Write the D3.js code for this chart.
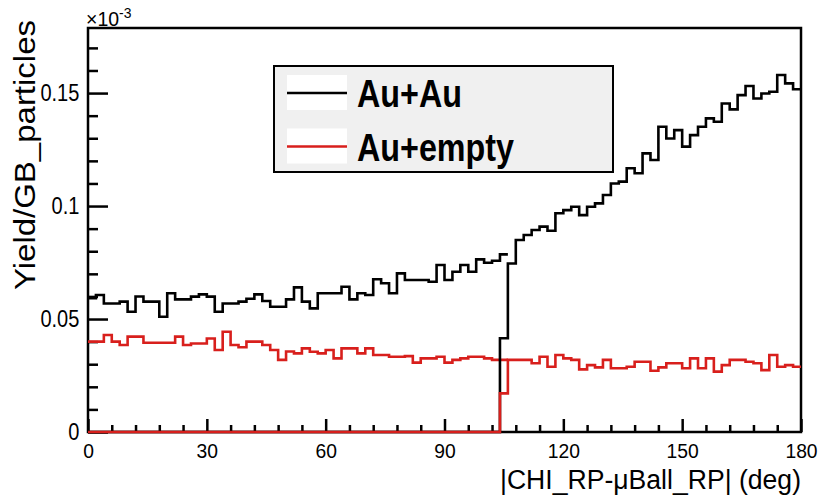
<!DOCTYPE html>
<html>
<head>
<meta charset="utf-8">
<script src="https://cdn.jsdelivr.net/npm/d3@7"></script>
<style>
  body { margin: 0; background: #fff; }
  svg { display: block; }
  text { font-family: "Liberation Sans", Arial, Helvetica, sans-serif; fill: #000; }
</style>
</head>
<body>
<svg id="chart" width="821" height="496"></svg>
<script>
// 90 bins of 2 degrees over |CHI_RP - uBall_RP|
const binEdges = d3.range(0, 182, 2);
// The "high" histograms start at this bin (104 deg)
const splitBin = 52;

// Yield/GB_particles (x10^-3), bins 0..52
const auAuLow = [
  0.0592, 0.0606, 0.0569, 0.0569, 0.0577, 0.0532, 0.0600, 0.0577, 0.0577, 0.0510,
  0.0614, 0.0587, 0.0587, 0.0599, 0.0609, 0.0599, 0.0532, 0.0569, 0.0569, 0.0577,
  0.0590, 0.0609, 0.0580, 0.0554, 0.0554, 0.0587, 0.0640, 0.0577, 0.0547, 0.0614,
  0.0614, 0.0614, 0.0643, 0.0587, 0.0614, 0.0606, 0.0676, 0.0658, 0.0614, 0.0702,
  0.0673, 0.0673, 0.0673, 0.0665, 0.0739, 0.0673, 0.0709, 0.0739, 0.0709, 0.0764,
  0.0749, 0.0758, 0.0786
];
// bins 52..89
const auAuHigh = [
  0.0415, 0.0746, 0.0850, 0.0872, 0.0894, 0.0909, 0.0891, 0.0968, 0.0982, 0.0997,
  0.0960, 0.0997, 0.1012, 0.1049, 0.1100, 0.1108, 0.1167, 0.1145, 0.1233, 0.1204,
  0.1351, 0.1299, 0.1336, 0.1263, 0.1314, 0.1351, 0.1388, 0.1373, 0.1454, 0.1428,
  0.1491, 0.1531, 0.1476, 0.1498, 0.1506, 0.1580, 0.1543, 0.1517
];
const emptyLow = [
  0.0400, 0.0400, 0.0429, 0.0400, 0.0385, 0.0422, 0.0422, 0.0395, 0.0395, 0.0395,
  0.0395, 0.0422, 0.0385, 0.0392, 0.0392, 0.0414, 0.0363, 0.0444, 0.0385, 0.0375,
  0.0400, 0.0400, 0.0385, 0.0363, 0.0319, 0.0356, 0.0348, 0.0370, 0.0355, 0.0348,
  0.0363, 0.0326, 0.0370, 0.0370, 0.0348, 0.0370, 0.0341, 0.0341, 0.0333, 0.0333,
  0.0336, 0.0307, 0.0326, 0.0326, 0.0333, 0.0307, 0.0319, 0.0326, 0.0333, 0.0333,
  0.0326, 0.0319, 0.0319
];
const emptyHigh = [
  0.0171, 0.0319, 0.0319, 0.0319, 0.0304, 0.0333, 0.0289, 0.0341, 0.0326, 0.0319,
  0.0277, 0.0296, 0.0286, 0.0319, 0.0282, 0.0282, 0.0289, 0.0311, 0.0311, 0.0271,
  0.0286, 0.0304, 0.0304, 0.0282, 0.0326, 0.0282, 0.0326, 0.0267, 0.0296, 0.0319,
  0.0319, 0.0311, 0.0304, 0.0274, 0.0341, 0.0289, 0.0296, 0.0289
];

const seriesNames = ["Au+Au", "Au+empty"];
const seriesColors = ["#000000", "#d81f1c"];

const xTickValues = [0, 30, 60, 90, 120, 150, 180];
const xMinorValues = d3.range(0, 181, 6).filter(v => v % 30 !== 0);
const yTickValues = [0, 0.05, 0.1, 0.15];
const yTickLabels = ["0", "0.05", "0.1", "0.15"];
const yMinorValues = d3.range(1, 18).map(v => v / 100).filter((v, i) => (i + 1) % 5 !== 0);

const xTitle = "|CHI_RP-\u03bcBall_RP| (deg)";
const yTitle = "Yield/GB_particles";

// ---- layout ----
const frame = { left: 88, right: 801, top: 28, bottom: 432 };

const svg = d3.select("#chart");
const x = d3.scaleLinear().domain([0, 180]).range([frame.left, frame.right]);
const y = d3.scaleLinear().domain([0, 0.1788]).range([frame.bottom, frame.top]);

// the low-angle histograms cover only their own bins;
// the high-angle ones span the full axis with empty bins below 104 deg
const nBins = binEdges.length - 1;
const padHigh = arr => d3.range(nBins).map(i => i >= splitBin ? arr[i - splitBin] : 0);

function stepPath(vals) {
  let p = `M${x(binEdges[0])},${y(vals[0])}`;
  vals.forEach((v, i) => {
    p += `V${y(v)}H${x(binEdges[i + 1])}`;
  });
  return p;
}

// ---- frame ----
svg.append("rect")
  .attr("x", frame.left).attr("y", frame.top)
  .attr("width", frame.right - frame.left).attr("height", frame.bottom - frame.top)
  .attr("fill", "none").attr("stroke", "#000").attr("stroke-width", 2.5);

// ---- axes ----
function styleAxis(g) {
  g.select(".domain").remove();
  g.selectAll(".tick line").attr("stroke", "#000").attr("stroke-width", 2.5);
}

const yMajor = svg.append("g")
  .attr("transform", `translate(${frame.left},0)`)
  .call(d3.axisLeft(y).tickValues(yTickValues).tickSize(-20).tickPadding(10)
    .tickFormat((d, i) => yTickLabels[i]));
styleAxis(yMajor);
yMajor.selectAll("text")
  .attr("font-size", 23)
  .attr("transform", "scale(0.87,1)");

const yMinor = svg.append("g")
  .attr("transform", `translate(${frame.left},0)`)
  .call(d3.axisLeft(y).tickValues(yMinorValues).tickSize(-10).tickFormat(""));
styleAxis(yMinor);

const xMajor = svg.append("g")
  .attr("transform", `translate(0,${frame.bottom})`)
  .call(d3.axisBottom(x).tickValues(xTickValues).tickSize(-13).tickPadding(11)
    .tickFormat(d3.format("d")));
styleAxis(xMajor);
xMajor.selectAll("text")
  .attr("font-size", 21)
  .attr("transform", "scale(0.92,1)");

const xMinor = svg.append("g")
  .attr("transform", `translate(0,${frame.bottom})`)
  .call(d3.axisBottom(x).tickValues(xMinorValues).tickSize(-7).tickFormat(""));
styleAxis(xMinor);

// ---- histograms (drawing order decides which zero line shows) ----
const layers = [
  { vals: emptyLow, color: seriesColors[1] },
  { vals: auAuLow, color: seriesColors[0] },
  { vals: padHigh(auAuHigh), color: seriesColors[0] },
  { vals: padHigh(emptyHigh), color: seriesColors[1] }
];
svg.append("g").selectAll("path")
  .data(layers)
  .join("path")
  .attr("d", d => stepPath(d.vals))
  .attr("fill", "none")
  .attr("stroke", d => d.color)
  .attr("stroke-width", 2.6)
  .attr("stroke-linejoin", "miter");

// ---- exponent label ----
const expo = svg.append("text")
  .attr("transform", "translate(86,26) scale(0.93,1)")
  .attr("font-size", 21);
expo.append("tspan").text("\u00d710");
expo.append("tspan").attr("font-size", 15).attr("dy", -8).text("-3");

// ---- axis titles ----
svg.append("text")
  .attr("transform", `translate(${frame.right},489) scale(0.95,1)`)
  .attr("text-anchor", "end")
  .attr("font-size", 28)
  .text(xTitle);

svg.append("text")
  .attr("transform", "translate(35,20) rotate(-90) scale(1,0.87)")
  .attr("text-anchor", "end")
  .attr("font-size", 33)
  .text(yTitle);

// ---- legend ----
const legend = svg.append("g");
legend.append("rect")
  .attr("x", 274).attr("y", 66).attr("width", 339).attr("height", 106)
  .attr("fill", "#f0f0f0").attr("stroke", "#000").attr("stroke-width", 2);

const entries = legend.selectAll("g.entry")
  .data(seriesNames.map((name, i) => ({ name, color: seriesColors[i], i })))
  .join("g")
  .attr("class", "entry")
  .attr("transform", d => `translate(0,${d.i * 53.5})`);

entries.append("rect")
  .attr("x", 287).attr("y", 75).attr("width", 60).attr("height", 35)
  .attr("fill", "#fff");
entries.append("line")
  .attr("x1", 287).attr("x2", 347).attr("y1", 93).attr("y2", 93)
  .attr("stroke", d => d.color).attr("stroke-width", 2.6);
entries.append("text")
  .attr("transform", "translate(357,107) scale(0.85,1)")
  .attr("font-size", 38)
  .attr("font-weight", "bold")
  .text(d => d.name);
</script>
</body>
</html>
